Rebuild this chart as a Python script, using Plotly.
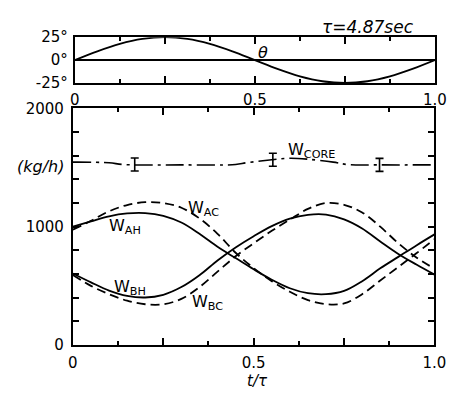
import plotly.graph_objects as go

# ---- data -------------------------------------------------------------
# phase of the oscillation, t/tau
t_theta = [0.0, 0.0625, 0.125, 0.1875, 0.25, 0.3125, 0.375, 0.4375, 0.5,
           0.5625, 0.625, 0.6875, 0.75, 0.8125, 0.875, 0.9375, 1.0]
theta = [0, 9.6, 17.7, 23.1, 25, 23.1, 17.7, 9.6, 0,
         -9.6, -17.7, -23.1, -25, -23.1, -17.7, -9.6, 0]

t = [0.00, 0.05, 0.10, 0.15, 0.20, 0.25, 0.30, 0.35, 0.40, 0.45, 0.50,
     0.55, 0.60, 0.65, 0.70, 0.75, 0.80, 0.85, 0.90, 0.95, 1.00]
w_ah = [1000, 1045, 1088, 1112, 1115, 1092, 1035, 940, 830, 735, 640,
        552, 480, 438, 430, 458, 540, 648, 745, 842, 935]
w_bh = [605, 530, 460, 415, 402, 425, 490, 590, 715, 825, 920,
        1005, 1068, 1100, 1102, 1062, 985, 875, 770, 680, 595]
w_ac = [975, 1050, 1130, 1183, 1207, 1200, 1160, 1070, 940, 780, 650,
        540, 450, 380, 345, 352, 430, 545, 660, 775, 895]
w_bc = [592, 500, 430, 375, 345, 345, 390, 490, 620, 750, 860,
        965, 1060, 1150, 1200, 1185, 1120, 1000, 860, 740, 645]

t_core = [0.00, 0.10, 0.14, 0.30, 0.45, 0.48, 0.55, 0.60, 0.65, 0.72, 0.76, 0.85, 1.00]
w_core = [1545, 1540, 1525, 1522, 1525, 1540, 1565, 1578, 1570, 1545, 1525, 1522, 1522]

t_err = [0.171, 0.553, 0.848]
w_err = [1525, 1565, 1522]
err_half = [55, 55, 55]

x_ticks = [0, 0.25, 0.5, 0.75, 1.0]
x_ticktext = ["0", "", "0.5", "", "1.0"]
x_minor = [0.125, 0.375, 0.625, 0.875]
theta_ticks = [-25, 0, 25]
theta_ticktext = ["-25°", "0°", "25°"]
w_ticks = [0, 200, 400, 600, 800, 1000, 1200, 1400, 1600, 1800, 2000]
w_ticktext = ["0", "", "", "", "", "1000", "", "", "", "", "2000"]

# ---- figure -----------------------------------------------------------
W, H = 459, 398
FONT = "DejaVu Sans"
INK = "black"

fig = go.Figure()

fig.add_trace(go.Scatter(x=t_theta, y=theta, mode="lines", line_shape="spline",
                         line=dict(color=INK, width=1.8), xaxis="x", yaxis="y",
                         showlegend=False, hoverinfo="skip"))

for ys, dash in [(w_ah, "solid"), (w_bh, "solid"), (w_ac, "9px,5px"), (w_bc, "9px,5px")]:
    fig.add_trace(go.Scatter(x=t, y=ys, mode="lines", line_shape="spline",
                             line=dict(color=INK, width=1.8, dash=dash),
                             xaxis="x2", yaxis="y2", showlegend=False, hoverinfo="skip"))

fig.add_trace(go.Scatter(x=t_core, y=w_core, mode="lines", line_shape="spline",
                         line=dict(color=INK, width=1.6, dash="18px,5px,3px,5px"),
                         xaxis="x2", yaxis="y2", showlegend=False, hoverinfo="skip"))

fig.add_trace(go.Scatter(x=t_err, y=w_err, mode="markers",
                         marker=dict(size=1, color=INK),
                         error_y=dict(type="data", array=err_half, visible=True,
                                      color=INK, thickness=1.6, width=4),
                         xaxis="x2", yaxis="y2", showlegend=False, hoverinfo="skip"))


def px_x(p):
    return p / W


def px_y(p):
    return 1 - p / H


tick_font = dict(family=FONT, size=15, color=INK)

common_x = dict(range=[0, 1], showline=True, linewidth=2, linecolor=INK, mirror="ticks",
                ticks="inside", ticklen=7, tickwidth=2, tickcolor=INK,
                tickvals=x_ticks, ticktext=x_ticktext,
                minor=dict(tickvals=x_minor, ticks="inside", ticklen=4, tickwidth=1.6,
                           tickcolor=INK),
                showgrid=False, zeroline=False, tickfont=tick_font, fixedrange=True)

fig.update_layout(
    width=W, height=H,
    margin=dict(l=0, r=0, t=0, b=0),
    paper_bgcolor="white", plot_bgcolor="white",
    xaxis=dict(domain=[px_x(72.5), px_x(446.5)], anchor="y", ticklabelstandoff=2, **common_x),
    yaxis=dict(domain=[px_y(77.5), px_y(29.5)], anchor="x", range=[-25, 25],
               showline=True, linewidth=2, linecolor=INK, mirror=True,
               tickvals=theta_ticks, ticktext=theta_ticktext, ticks="",
               showgrid=False, zeroline=True, zerolinecolor=INK, zerolinewidth=1.6,
               tickfont=tick_font, ticklabelstandoff=2, fixedrange=True),
    xaxis2=dict(domain=[px_x(70.5), px_x(446)], anchor="y2", ticklabelstandoff=3, **common_x),
    yaxis2=dict(domain=[px_y(352), px_y(104)], anchor="x2", range=[0, 2000],
                showline=True, linewidth=2, linecolor=INK, mirror="ticks",
                ticks="inside", ticklen=6, tickwidth=1.6, tickcolor=INK,
                tickvals=w_ticks, ticktext=w_ticktext,
                showgrid=False, zeroline=False, tickfont=tick_font,
                ticklabelstandoff=4, fixedrange=True),
)

ann_font = dict(family=FONT, size=16, color=INK)
annotations = [
    dict(text="<i>τ=4.87sec</i>", x=px_x(377), y=px_y(19), xref="paper", yref="paper",
         font=dict(family=FONT, size=17, color=INK)),
    dict(text="<i>θ</i>", x=0.523, y=8, xref="x", yref="y", font=ann_font),
    dict(text="<i>(kg/h)</i>", x=px_x(37), y=px_y(165), xref="paper", yref="paper",
         font=ann_font),
    dict(text="<i>t/τ</i>", x=px_x(262), y=px_y(390), xref="paper", yref="paper",
         font=dict(family=FONT, size=15, color=INK)),
    dict(text="W<sub>CORE</sub>", x=0.66, y=1645, xref="x2", yref="y2", font=ann_font),
    dict(text="W<sub>AC</sub>", x=0.36, y=1150, xref="x2", yref="y2", font=ann_font),
    dict(text="W<sub>AH</sub>", x=0.143, y=1000, xref="x2", yref="y2", font=ann_font),
    dict(text="W<sub>BH</sub>", x=0.157, y=485, xref="x2", yref="y2", font=ann_font),
    dict(text="W<sub>BC</sub>", x=0.372, y=360, xref="x2", yref="y2", font=ann_font),
]
for a in annotations:
    a.update(showarrow=False, xanchor="center", yanchor="middle")
fig.update_layout(annotations=annotations)

# the figure fills the page edge to edge
fig.write_html("out.html",
               post_script="document.body.style.margin='0';"
                           "document.documentElement.style.overflow='hidden';")
